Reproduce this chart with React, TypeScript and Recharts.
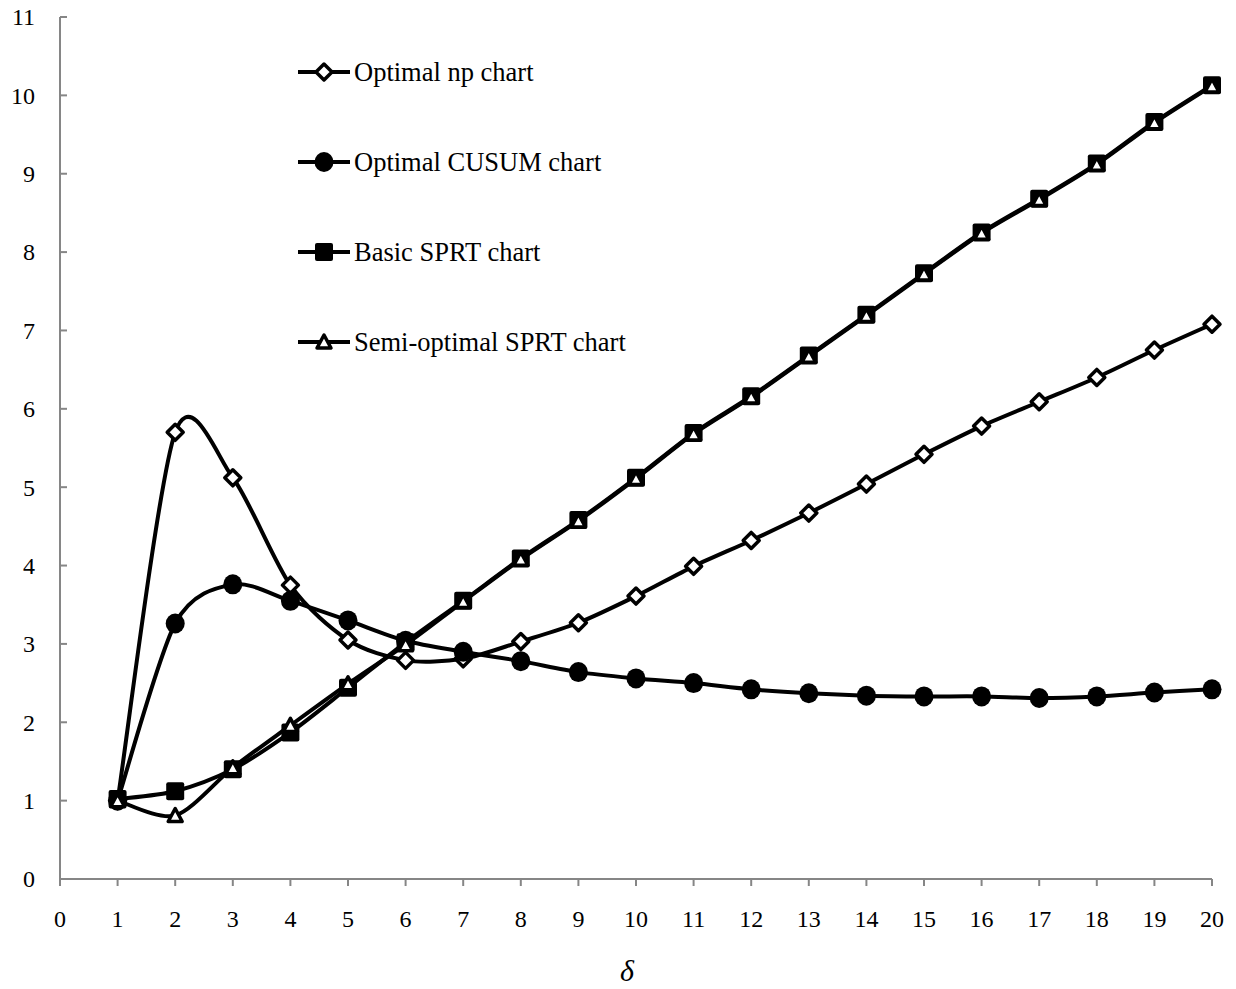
import React from "react";
import { LineChart, Line, XAxis, YAxis, Legend } from "recharts";

const deltas = [1, 2, 3, 4, 5, 6, 7, 8, 9, 10, 11, 12, 13, 14, 15, 16, 17, 18, 19, 20];
const npChart = [1.0, 5.7, 5.12, 3.75, 3.05, 2.79, 2.81, 3.03, 3.27, 3.61, 3.99, 4.32, 4.67, 5.04, 5.42, 5.78, 6.09, 6.4, 6.75, 7.08];
const cusumChart = [1.0, 3.26, 3.76, 3.55, 3.3, 3.04, 2.9, 2.78, 2.64, 2.56, 2.5, 2.42, 2.37, 2.34, 2.33, 2.33, 2.31, 2.33, 2.38, 2.42];
const basicSprt = [1.02, 1.12, 1.4, 1.87, 2.44, 3.02, 3.55, 4.09, 4.58, 5.12, 5.69, 6.16, 6.68, 7.2, 7.73, 8.25, 8.68, 9.13, 9.66, 10.13];
const semiSprt = [1.0, 0.81, 1.42, 1.96, 2.49, 2.99, 3.54, 4.08, 4.57, 5.11, 5.68, 6.15, 6.67, 7.19, 7.72, 8.24, 8.67, 9.12, 9.65, 10.12];

const xTicks = [0, 1, 2, 3, 4, 5, 6, 7, 8, 9, 10, 11, 12, 13, 14, 15, 16, 17, 18, 19, 20];
const yTicks = [0, 1, 2, 3, 4, 5, 6, 7, 8, 9, 10, 11];
const seriesOrder = ["np", "cusum", "basic", "semi"];

const data = deltas.map((d, i) => ({
  delta: d,
  np: npChart[i],
  cusum: cusumChart[i],
  basic: basicSprt[i],
  semi: semiSprt[i],
}));

const FONT = "'Liberation Serif', 'Times New Roman', serif";
const AXIS = "#868686";

// smoothing like a spreadsheet's "smoothed line" (Catmull-Rom, slightly tighter)
const K = 1 / 7;
function smoothCurve(context: any) {
  let pts: number[][] = [];
  return {
    areaStart() {},
    areaEnd() {},
    lineStart() {
      pts = [];
    },
    lineEnd() {
      const n = pts.length;
      if (!n) return;
      context.moveTo(pts[0][0], pts[0][1]);
      for (let i = 0; i < n - 1; i++) {
        const p0 = pts[Math.max(i - 1, 0)];
        const p1 = pts[i];
        const p2 = pts[i + 1];
        const p3 = pts[Math.min(i + 2, n - 1)];
        context.bezierCurveTo(
          p1[0] + (p2[0] - p0[0]) * K,
          p1[1] + (p2[1] - p0[1]) * K,
          p2[0] - (p3[0] - p1[0]) * K,
          p2[1] - (p3[1] - p1[1]) * K,
          p2[0],
          p2[1]
        );
      }
    },
    point(x: number, y: number) {
      pts.push([+x, +y]);
    },
  };
}

const Diamond = (cx: number, cy: number, key?: any) => (
  <path
    key={key}
    d={`M${cx},${cy - 8} L${cx + 8},${cy} L${cx},${cy + 8} L${cx - 8},${cy} Z`}
    fill="#fff"
    stroke="#000"
    strokeWidth={3.5}
    strokeLinejoin="round"
  />
);
const Circle = (cx: number, cy: number, key?: any) => (
  <ellipse key={key} cx={cx} cy={cy} rx={9.5} ry={10} fill="#000" />
);
const Square = (cx: number, cy: number, key?: any) => (
  <rect key={key} x={cx - 9} y={cy - 9} width={18} height={18} rx={2} fill="#000" />
);
const Triangle = (cx: number, cy: number, key?: any) => (
  <path
    key={key}
    d={`M${cx},${cy - 7} L${cx + 7},${cy + 6} L${cx - 7},${cy + 6} Z`}
    fill="#fff"
    stroke="#000"
    strokeWidth={3.5}
    strokeLinejoin="round"
  />
);

const markers: any = { np: Diamond, cusum: Circle, basic: Square, semi: Triangle };

const dotFor = (name: string) => (props: any) => {
  const { cx, cy, index } = props;
  return markers[name](cx, cy, `${name}-${index}`);
};

const YTick = (props: any) => {
  const { x, y, payload } = props;
  return (
    <g>
      <line x1={x} y1={y} x2={x + 7} y2={y} stroke={AXIS} strokeWidth={2} />
      <text x={x - 25} y={y} dy="0.35em" textAnchor="end" fontFamily={FONT} fontSize={24} fill="#000">
        {payload.value}
      </text>
    </g>
  );
};

const XTick = (props: any) => {
  const { x, y, payload } = props;
  return (
    <g>
      <line x1={x} y1={y} x2={x} y2={y + 7} stroke={AXIS} strokeWidth={2} />
      <text x={x} y={y + 40} dy="0.35em" textAnchor="middle" fontFamily={FONT} fontSize={24} fill="#000">
        {payload.value}
      </text>
    </g>
  );
};

const renderLegend = (props: any) => {
  const payload = [...(props.payload || [])].sort(
    (a: any, b: any) => seriesOrder.indexOf(a.dataKey) - seriesOrder.indexOf(b.dataKey)
  );
  return (
    <svg width={420} height={320}>
      {payload.map((entry: any, i: number) => {
        const cy = 22 + i * 90;
        return (
          <g key={entry.value}>
            <line x1={0} y1={cy} x2={52} y2={cy} stroke="#000" strokeWidth={4} />
            {markers[entry.dataKey](26, cy)}
            <text x={56} y={cy} dy="0.35em" fontFamily={FONT} fontSize={26.5} fill="#000">
              {entry.value}
            </text>
          </g>
        );
      })}
    </svg>
  );
};

export default function App() {
  return (
    <div style={{ margin: -8 }}>
      <LineChart
        width={1236}
        height={989}
        data={data}
        margin={{ top: 17, right: 24, left: 8, bottom: 0 }}
      >
        <XAxis
          dataKey="delta"
          type="number"
          domain={[0, 20]}
          ticks={xTicks}
          interval={0}
          height={110}
          stroke={AXIS}
          strokeWidth={2}
          tickLine={false}
          tickSize={0}
          tickMargin={0}
          tick={<XTick />}
          label={{
            value: "δ",
            position: "insideBottom",
            offset: 8,
            dx: -9,
            style: { fontFamily: FONT, fontSize: 30, fontStyle: "italic", fill: "#000" },
          }}
        />
        <YAxis
          type="number"
          domain={[0, 11]}
          ticks={yTicks}
          interval={0}
          width={52}
          stroke={AXIS}
          strokeWidth={2}
          tickLine={false}
          tickSize={0}
          tickMargin={0}
          tick={<YTick />}
        />
        <Legend
          layout="vertical"
          verticalAlign="middle"
          align="center"
          itemSorter={null as any}
          content={renderLegend}
          wrapperStyle={{ left: 298, top: 50, width: 420, height: 320 }}
        />
        <Line
          dataKey="np"
          name="Optimal np chart"
          type={smoothCurve as any}
          stroke="#000"
          strokeWidth={4}
          dot={dotFor("np")}
          activeDot={false}
          isAnimationActive={false}
        />
        <Line
          dataKey="cusum"
          name="Optimal CUSUM chart"
          type={smoothCurve as any}
          stroke="#000"
          strokeWidth={4}
          dot={dotFor("cusum")}
          activeDot={false}
          isAnimationActive={false}
        />
        <Line
          dataKey="basic"
          name="Basic SPRT chart"
          type={smoothCurve as any}
          stroke="#000"
          strokeWidth={4}
          dot={dotFor("basic")}
          activeDot={false}
          isAnimationActive={false}
        />
        <Line
          dataKey="semi"
          name="Semi-optimal SPRT chart"
          type={smoothCurve as any}
          stroke="#000"
          strokeWidth={4}
          dot={dotFor("semi")}
          activeDot={false}
          isAnimationActive={false}
        />
      </LineChart>
    </div>
  );
}
